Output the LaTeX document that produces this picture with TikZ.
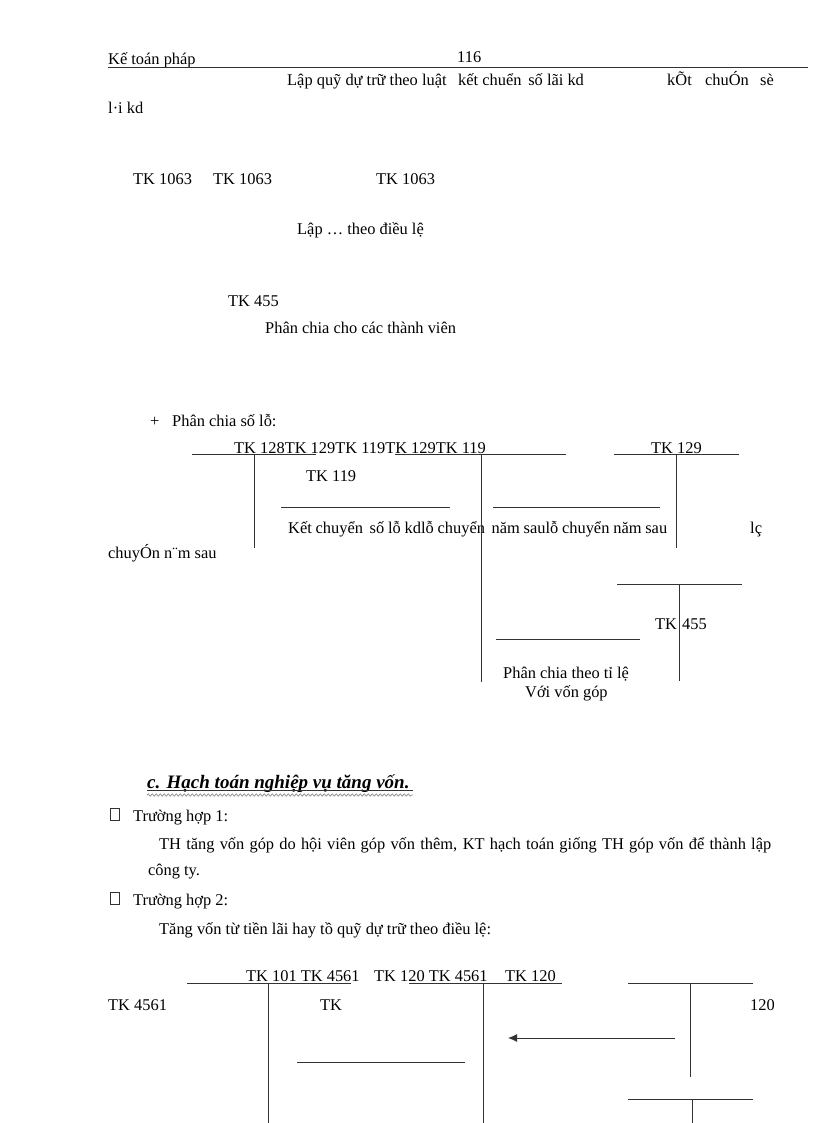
\documentclass[tikz,border=0pt]{standalone}
\usepackage{fontspec}
\setmainfont{Liberation Serif}
\usetikzlibrary{arrows.meta,decorations.pathmorphing}
\tikzset{
  every node/.style={anchor=base west,inner sep=0pt,font=\fontsize{16.4}{19}\selectfont},
  tickbox/.style={anchor=north west,draw=black!80,line width=0.8pt,minimum width=9pt,minimum height=12pt},
  rule/.style={draw=black!80,line width=1pt},
}
\begin{document}
\begin{tikzpicture}[x=1pt,y=-1pt]
  \useasboundingbox (0,0) rectangle (816,1123);
  \draw
    (108,65) node (hd){Kế toán pháp}
    (457,63) node (pg){116}
    (287,86) node (lq){Lập quỹ dự trữ theo luật}
    (458,86) node (kc){kết chuển\, số lãi kd}
    (667,86) node (ko){kÕt}
    (705,86) node (cn){chuÓn}
    (760,86) node (se){sè}
    (108,114) node (li){l·i kd}
    (133,185) node (tka){TK 1063}
    (213,185) node (tkb){TK 1063}
    (376,185) node (tkc){TK 1063}
    (297,234) node (ld){Lập … theo điều lệ}
    (228,306) node (tkd){TK 455}
    (265,333) node (pc){Phân chia cho các thành viên}
    (150,426) node (pl){+}
    (172,426) node (pcl){Phân chia số lỗ:}
    (234,453) node (rw){TK 128TK 129TK 119TK 129TK 119}
    (651,453) node (tke){TK 129}
    (306,481) node (tkf){TK 119}
    (288,533) node (kcl){\makebox[379pt][s]{Kết chuyển\, số lỗ kdlỗ chuyển\, năm saulỗ chuyển năm sau}}
    (750,533) node (lc){lç}
    (108,558) node (cnm){chuyÓn n¨m sau}
    (655,629) node (tkg){TK}
    (682,629) node (ng){455}
    (503,678) node (ptl){Phân chia theo tỉ lệ}
    (525,697) node (vvg){Với vốn góp}
    (147,788) node (ttl){\fontsize{19}{22}\selectfont\bfseries\itshape c. Hạch toán nghiệp vụ tăng vốn.}
    (110,808) node[tickbox] (bxa){}
    (133,821) node (tha){Trường hợp 1:}
    (159,849) node (pa){\makebox[612pt][s]{TH tăng vốn góp do hội viên góp vốn thêm, KT hạch toán giống TH góp vốn để thành lập}}
    (148,875) node (pb){công ty.}
    (110,892) node[tickbox] (bxb){}
    (133,905) node (thb){Trường hợp 2:}
    (159,934) node (pcc){Tăng vốn từ tiền lãi hay tồ quỹ dự trữ theo điều lệ:}
    (246,981) node (ra){TK 101 TK 4561}
    (374,981) node (rc){TK 120 TK 4561}
    (505,981) node (re){TK 120}
    (108,1010) node (tkh){TK 4561}
    (320,1010) node (tki){TK}
    (750,1010) node (nh){120};
  \path
    (108,68) coordinate (ha) (808,68) coordinate (hb)
    (147,790) coordinate (ua) (413,790) coordinate (ub)
    (147,795) coordinate (wa) (413,795) coordinate (wb)
    (192,454) coordinate (a1) (316,454) coordinate (a2)
    (395,454) coordinate (b1) (566,454) coordinate (b2)
    (614,454) coordinate (c1) (739,454) coordinate (c2)
    (254,454) coordinate (d1) (254,548) coordinate (d2)
    (481,454) coordinate (e1) (481,682) coordinate (e2)
    (676,454) coordinate (f1) (676,548) coordinate (f2)
    (281,507) coordinate (g1) (450,507) coordinate (g2)
    (493,507) coordinate (h1) (660,507) coordinate (h2)
    (617,584) coordinate (i1) (742,584) coordinate (i2)
    (679,584) coordinate (j1) (679,681) coordinate (j2)
    (496,639) coordinate (k1) (640,639) coordinate (k2)
    (187,983) coordinate (l1) (351,983) coordinate (l2)
    (409,983) coordinate (m1) (562,983) coordinate (m2)
    (628,983) coordinate (n1) (753,983) coordinate (n2)
    (268,983) coordinate (o1) (268,1123) coordinate (o2)
    (483,983) coordinate (p1) (483,1123) coordinate (p2)
    (690,983) coordinate (q1) (690,1077) coordinate (q2)
    (675,1038) coordinate (r1) (508,1038) coordinate (r2)
    (297,1062) coordinate (s1) (465,1062) coordinate (s2)
    (628,1099) coordinate (t1) (753,1099) coordinate (t2)
    (692,1099) coordinate (u1) (692,1123) coordinate (u2);
  \begin{scope}[rule]
    \draw (ha) to (hb);
    \draw (ua) to (ub);
    \draw (a1) to (a2);
    \draw (b1) to (b2);
    \draw (c1) to (c2);
    \draw (d1) to (d2);
    \draw (e1) to (e2);
    \draw (f1) to (f2);
    \draw (g1) to (g2);
    \draw (h1) to (h2);
    \draw (i1) to (i2);
    \draw (j1) to (j2);
    \draw (k1) to (k2);
    \draw (l1) to (l2);
    \draw (m1) to (m2);
    \draw (n1) to (n2);
    \draw (o1) to (o2);
    \draw (p1) to (p2);
    \draw (q1) to (q2);
    \draw (s1) to (s2);
    \draw (t1) to (t2);
    \draw (u1) to (u2);
    \draw[-{Latex[length=9pt,width=8pt]}] (r1) to (r2);
  \end{scope}
  \draw[black!45,line width=0.7pt,decorate,decoration={snake,amplitude=1.2pt,segment length=4pt}] (wa) to (wb);
\end{tikzpicture}
\end{document}
